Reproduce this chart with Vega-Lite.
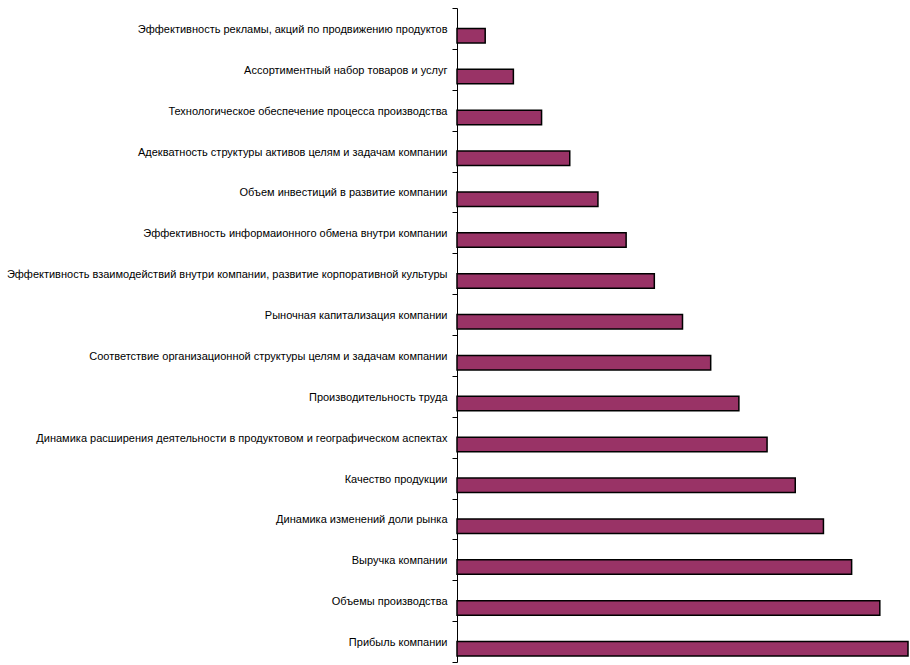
{
  "$schema": "https://vega.github.io/schema/vega-lite/v6.json",
  "autosize": "none",
  "width": 451,
  "height": 654,
  "padding": {"left": 457, "top": 8, "right": 2, "bottom": 3},
  "background": "white",
  "config": {"view": {"stroke": null}},
  "data": {"values": [
    {"factor": "Эффективность рекламы, акций по продвижению продуктов", "value": 1, "series": "value"},
    {"factor": "Ассортиментный набор товаров и услуг", "value": 2, "series": "value"},
    {"factor": "Технологическое  обеспечение  процесса  производства", "value": 3, "series": "value"},
    {"factor": "Адекватность структуры активов целям и задачам компании", "value": 4, "series": "value"},
    {"factor": "Объем  инвестиций  в развитие компании", "value": 5, "series": "value"},
    {"factor": "Эффективность  информаионного  обмена внутри компании", "value": 6, "series": "value"},
    {"factor": "Эффективность  взаимодействий внутри компании,  развитие корпоративной  культуры", "value": 7, "series": "value"},
    {"factor": "Рыночная  капитализация  компании", "value": 8, "series": "value"},
    {"factor": "Соответствие организационной  структуры целям  и задачам  компании", "value": 9, "series": "value"},
    {"factor": "Производительность  труда", "value": 10, "series": "value"},
    {"factor": "Динамика  расширения  деятельности  в продуктовом и географическом  аспектах", "value": 11, "series": "value"},
    {"factor": "Качество продукции", "value": 12, "series": "value"},
    {"factor": "Динамика  изменений  доли  рынка", "value": 13, "series": "value"},
    {"factor": "Выручка компании", "value": 14, "series": "value"},
    {"factor": "Объемы  производства", "value": 15, "series": "value"},
    {"factor": "Прибыль  компании", "value": 16, "series": "value"}
  ]},
  "mark": {"type": "bar", "fill": "#993366", "stroke": "#000000", "strokeWidth": 1.5},
  "encoding": {
    "y": {
      "field": "factor",
      "type": "nominal",
      "sort": null,
      "scale": {"paddingInner": 0, "paddingOuter": 0},
      "axis": {
        "title": null,
        "domainColor": "#000000",
        "domainWidth": 1,
        "tickColor": "#000000",
        "tickSize": 5,
        "tickBand": "extent",
        "labelFont": "Liberation Sans",
        "labelFontSize": 11,
        "labelColor": "#000000",
        "labelPadding": 5,
        "labelLimit": 0,
        "labelOffset": 1
      }
    },
    "yOffset": {
      "field": "series",
      "type": "nominal",
      "scale": {"domain": ["empty", "value"], "paddingInner": 0, "paddingOuter": 0.41}
    },
    "x": {
      "field": "value",
      "type": "quantitative",
      "scale": {"domain": [0, 16], "nice": false},
      "axis": null
    }
  }
}
